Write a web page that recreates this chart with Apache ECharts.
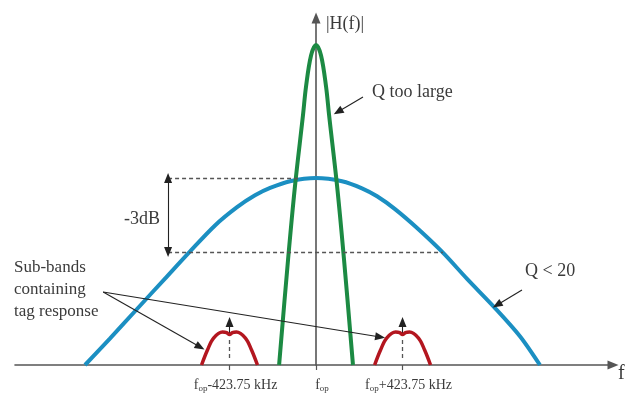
<!DOCTYPE html>
<html>
<head>
<meta charset="utf-8">
<script src="https://cdn.jsdelivr.net/npm/echarts@6/dist/echarts.min.js"></script>
<style>
  html, body { margin: 0; padding: 0; background: #ffffff; }
  #chart { width: 629px; height: 396px; }
</style>
</head>
<body>
<div id="chart"></div>
<script>
// Horizontal: frequency offset from f_op (kHz). Vertical: |H(f)|, relative to the high-Q peak.

// Low-Q reader response (Q < 20)
const wideF = [-1132, -1009, -877, -740, -617, -495, -387, -299, -225, -127, 0, 127, 225, 299, 387, 495, 617, 740, 877, 999, 1097];
const wideH = [0, 0.083, 0.175, 0.27, 0.355, 0.436, 0.493, 0.53, 0.553, 0.574, 0.584, 0.574, 0.552, 0.527, 0.487, 0.428, 0.354, 0.269, 0.178, 0.09, 0];

// High-Q reader response (Q too large)
const narrowF = [-181, -137, -103, -64, -49, -24.5, 0, 24.5, 49, 64, 103, 137, 181];
const narrowH = [0, 0.33, 0.56, 0.78, 0.87, 0.967, 1, 0.967, 0.87, 0.78, 0.56, 0.33, 0];

// Tag response sub-bands around f_op -/+ 423.75 kHz
const lowerBandF = [-561, -532, -502, -458, -438, -423.75, -410, -390, -346, -316, -287];
const upperBandF = [287, 316, 346, 390, 410, 423.75, 438, 458, 502, 532, 561];
const bandH = [0, 0.047, 0.084, 0.103, 0.101, 0.095, 0.101, 0.103, 0.084, 0.047, 0];

// Axis ticks and their labels (prefix f_op is added as rich text)
const tickValues = [-423.75, 0, 423.75];
const tickSuffix = ['-423.75 kHz', '', '+423.75 kHz'];

// -3 dB construction
const peakLevel = 0.584;
const halfPowerLevel = 0.353;
const bandEdges = [-617, 622];
const dbMarkerF = -725;
const carrierGuideEnd = -80;

const pairs = (xs, ys) => xs.map((x, i) => [x, ys[i]]);

const serif = '"Liberation Serif", "DejaVu Serif", serif';
const ink = '#3b3b3b';
const axisGray = '#555555';

const chart = echarts.init(document.getElementById('chart'), null, { renderer: 'canvas' });

const dashed = { color: axisGray, width: 1.3, type: [4, 3] };
const thin = { color: '#222', width: 1.1, type: 'solid' };

function seg(a, b, style, endSymbols) {
  return [
    { coord: a, symbol: endSymbols[0], lineStyle: style },
    { coord: b, symbol: endSymbols[1] }
  ];
}

const annotations = [
  // -3 dB guides
  seg([dbMarkerF, peakLevel], [carrierGuideEnd, peakLevel], dashed, ['none', 'none']),
  seg([dbMarkerF, halfPowerLevel], [bandEdges[1], halfPowerLevel], dashed, ['none', 'none']),
  seg([bandEdges[0], halfPowerLevel], [bandEdges[0], -0.025], dashed, ['none', 'none']),
  seg([bandEdges[1], halfPowerLevel], [bandEdges[1], -0.025], dashed, ['none', 'none']),
  seg([dbMarkerF, peakLevel], [dbMarkerF, halfPowerLevel], thin, ['triangle', 'triangle']),
  // sub-band centre stubs
  seg([tickValues[0], 0.078], [tickValues[0], 0.02], dashed, ['none', 'none']),
  seg([tickValues[2], 0.078], [tickValues[2], 0.02], dashed, ['none', 'none']),
  seg([tickValues[0], 0.098], [tickValues[0], 0.134], thin, ['none', 'triangle']),
  seg([tickValues[2], 0.098], [tickValues[2], 0.134], thin, ['none', 'triangle']),
  // callout arrows
  seg([230, 0.8375], [108, 0.791], thin, ['none', 'triangle']),
  seg([1009, 0.234], [887, 0.1875], thin, ['none', 'triangle']),
  seg([-1043, 0.228], [-568, 0.056], thin, ['none', 'triangle']),
  seg([-1043, 0.228], [314, 0.0875], thin, ['none', 'triangle'])
];

const option = {
  animation: false,
  backgroundColor: '#ffffff',
  grid: { left: 15, right: 16, top: 18, bottom: 31, containLabel: false },
  xAxis: {
    type: 'value',
    min: -1475,
    max: 1455,
    splitLine: { show: false },
    axisLine: {
      show: true,
      onZero: true,
      symbol: ['none', 'triangle'],
      symbolSize: [9, 11],
      lineStyle: { color: axisGray, width: 1.6 }
    },
    axisTick: {
      show: true,
      customValues: tickValues,
      length: 5,
      lineStyle: { color: axisGray, width: 1.2 }
    },
    axisLabel: {
      show: true,
      customValues: tickValues,
      margin: 12,
      padding: [0, 0, 0, 12],
      formatter: function (v) {
        const i = tickValues.indexOf(v);
        const tail = i >= 0 ? tickSuffix[i] : '';
        return '{f|f}{s|op}' + (tail ? '{t|' + tail + '}' : '');
      },
      rich: {
        f: { fontFamily: serif, fontSize: 14, color: ink, lineHeight: 16 },
        s: { fontFamily: serif, fontSize: 9, color: ink, lineHeight: 16, padding: [7, 0, 0, 0] },
        t: { fontFamily: serif, fontSize: 14, color: ink, lineHeight: 16 }
      }
    }
  },
  yAxis: {
    type: 'value',
    min: 0,
    max: 1.084,
    splitLine: { show: false },
    axisTick: { show: false },
    axisLabel: { show: false },
    axisLine: {
      show: true,
      onZero: true,
      symbol: ['none', 'triangle'],
      symbolSize: [9, 11],
      lineStyle: { color: axisGray, width: 1.6 }
    }
  },
  series: [
    {
      name: 'Q < 20',
      type: 'line',
      data: pairs(wideF, wideH),
      smooth: 0.3,
      showSymbol: false,
      clip: false,
      lineStyle: { color: '#1b8fc2', width: 4 },
      z: 3
    },
    {
      name: 'Q too large',
      type: 'line',
      data: pairs(narrowF, narrowH),
      smooth: 0.35,
      showSymbol: false,
      clip: false,
      lineStyle: { color: '#1c8a43', width: 4 },
      z: 4
    },
    {
      name: 'lower sub-band',
      type: 'line',
      data: pairs(lowerBandF, bandH),
      smooth: 0.35,
      showSymbol: false,
      clip: false,
      lineStyle: { color: '#b3161f', width: 3.5 },
      z: 5
    },
    {
      name: 'upper sub-band',
      type: 'line',
      data: pairs(upperBandF, bandH),
      smooth: 0.35,
      showSymbol: false,
      clip: false,
      lineStyle: { color: '#b3161f', width: 3.5 },
      z: 5
    },
    {
      name: 'annotations',
      type: 'line',
      data: [],
      clip: false,
      z: 6,
      markLine: {
        silent: true,
        animation: false,
        symbolSize: [8, 10],
        label: { show: false },
        emphasis: { disabled: true },
        data: annotations
      }
    }
  ],
  graphic: [
    { type: 'text', left: 326, top: 15, style: { text: '|H(f)|', font: '18px ' + serif, fill: ink } },
    { type: 'text', left: 372, top: 83, style: { text: 'Q too large', font: '18px ' + serif, fill: ink } },
    { type: 'text', left: 124, top: 210, style: { text: '-3dB', font: '18px ' + serif, fill: ink } },
    { type: 'text', left: 14, top: 257, style: { text: 'Sub-bands\ncontaining\ntag response', font: '17px ' + serif, lineHeight: 22, fill: ink } },
    { type: 'text', left: 525, top: 262, style: { text: 'Q < 20', font: '18px ' + serif, fill: ink } },
    { type: 'text', left: 618, top: 364, style: { text: 'f', font: '20px ' + serif, fill: ink } }
  ]
};

chart.setOption(option);
</script>
</body>
</html>
